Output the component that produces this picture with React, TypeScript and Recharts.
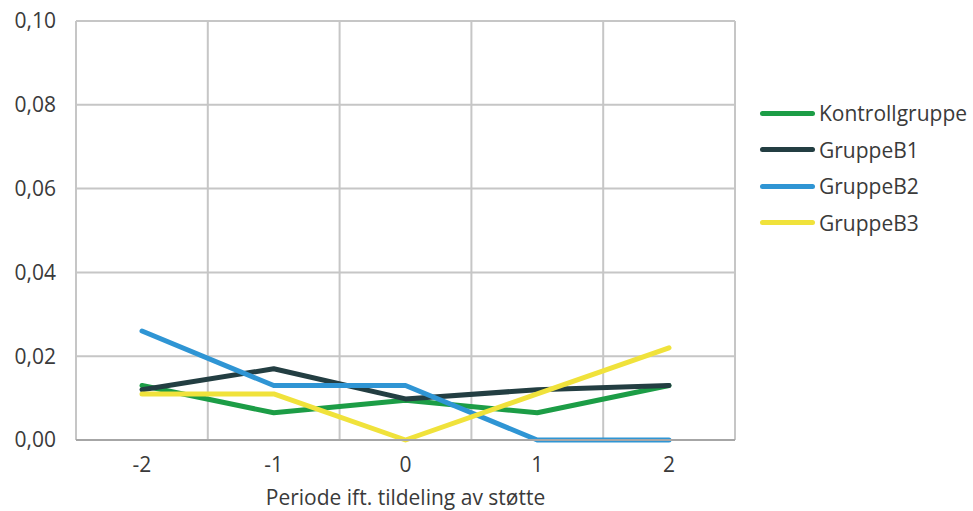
import React from 'react';
import { LineChart, Line, XAxis, YAxis, CartesianGrid } from 'recharts';

const categories = ['-2', '-1', '0', '1', '2'];
const kontrollgruppe = [0.013, 0.0065, 0.0095, 0.0065, 0.013];
const gruppeB1 = [0.012, 0.017, 0.0098, 0.012, 0.013];
const gruppeB2 = [0.026, 0.013, 0.013, 0, 0];
const gruppeB3 = [0.011, 0.011, 0, 0.011, 0.022];
const yTicks = [0, 0.02, 0.04, 0.06, 0.08, 0.1];

const seriesNames = ['Kontrollgruppe', 'GruppeB1', 'GruppeB2', 'GruppeB3'];
const seriesColors = ['#1c9d46', '#233e42', '#2f95d4', '#f0e23b'];

const data = categories.map((c, i) => ({
  period: c,
  Kontrollgruppe: kontrollgruppe[i],
  GruppeB1: gruppeB1[i],
  GruppeB2: gruppeB2[i],
  GruppeB3: gruppeB3[i],
}));

const FONT = '"Open Sans", "Noto Sans", sans-serif';
const TEXT = '#3a3a3a';
const FS = 21;

const fmt = (v: number) => v.toFixed(2).replace('.', ',');

const LegendBox = () => (
  <div style={{ position: 'absolute', left: 760, top: 95, fontFamily: FONT, fontSize: FS, color: TEXT }}>
    {seriesNames.map((n, i) => (
      <div key={n} style={{ display: 'flex', alignItems: 'center', height: 36.5 }}>
        <div style={{ width: 55, height: 5, borderRadius: 3, background: seriesColors[i], marginRight: 4 }} />
        <span>{n}</span>
      </div>
    ))}
  </div>
);

export default function App() {
  const W = 973;
  const H = 511;
  return (
    <div style={{ position: 'fixed', left: 0, top: 0, width: W, height: H, background: '#fff' }}>
      <LineChart width={W} height={H} data={data} margin={{ top: 21, right: 238, bottom: 0, left: 0 }}>
        <CartesianGrid
          stroke="#c6c6c6"
          strokeWidth={2}
          verticalCoordinatesGenerator={({ offset }: any) =>
            [0, 1, 2, 3, 4, 5].map((i) => offset.left + (i * offset.width) / categories.length)
          }
        />
        <XAxis
          dataKey="period"
          padding={{ left: 66, right: 66 }}
          tickLine={false}
          tickSize={0}
          tickMargin={17}
          height={71}
          stroke="#a6a6a6"
          strokeWidth={2}
          tick={{ fill: TEXT, fontSize: FS, fontFamily: FONT }}
          label={{ value: 'Periode ift. tildeling av støtte', position: 'insideBottom', offset: 6, fill: TEXT, fontSize: FS, fontFamily: FONT }}
        />
        <YAxis
          domain={[0, 0.1]}
          ticks={yTicks}
          tickFormatter={fmt}
          axisLine={false}
          tickLine={false}
          tickSize={0}
          tickMargin={20}
          width={76}
          tick={{ fill: TEXT, fontSize: FS, fontFamily: FONT }}
        />
        {seriesNames.map((n, i) => (
          <Line
            key={n}
            dataKey={n}
            stroke={seriesColors[i]}
            strokeWidth={5}
            strokeLinecap="round"
            strokeLinejoin="round"
            dot={false}
            activeDot={false}
            isAnimationActive={false}
          />
        ))}
      </LineChart>
      <LegendBox />
    </div>
  );
}
